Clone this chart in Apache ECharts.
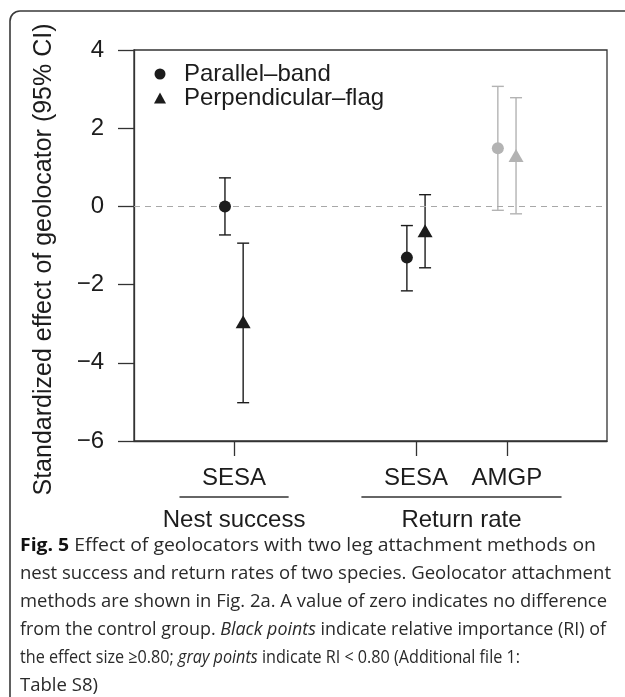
<!DOCTYPE html>
<html><head><meta charset="utf-8">
<script src="https://cdn.jsdelivr.net/npm/echarts@6/dist/echarts.min.js"></script>
<style>html,body{margin:0;padding:0;background:#fff}#c{width:625px;height:697px}</style>
</head><body><div id="c"></div>
<script>
// ---- data ----
const categories = ["SESA", "SESA", "AMGP"];
const categoryPos = [1, 3, 4];
const groupNames = ["Nest success", "Return rate"];
const groupMembers = [[0], [1, 2]];
const seriesNames = ["Parallel\u2013band", "Perpendicular\u2013flag"];
const parallelEst = [0.00, -1.31, 1.49];
const parallelLow = [-0.73, -2.16, -0.10];
const parallelHigh = [0.73, -0.49, 3.07];
const perpEst = [-2.95, -0.62, 1.30];
const perpLow = [-5.02, -1.57, -0.19];
const perpHigh = [-0.94, 0.30, 2.78];
const highImportance = [true, true, false];
const yTitle = "Standardized effect of geolocator (95% CI)";
// caption lines: segments [style, text]
const captionLines = [
  [["b", "Fig. 5"], ["n", " Effect of geolocators with two leg attachment methods on"]],
  [["n", "nest success and return rates of two species. Geolocator attachment"]],
  [["n", "methods are shown in Fig. 2a. A value of zero indicates no difference"]],
  [["n", "from the control group. "], ["i", "Black points"], ["n", " indicate relative importance (RI) of"]],
  [["n", "the effect size \u22650.80; "], ["i", "gray points"], ["n", " indicate RI < 0.80 (Additional file 1:"]],
  [["n", "Table S8)"]]
];
const captionLineWidths = [576, 591, 587, 586, 500, 78];

// ---- style ----
const BLACK = '#1c1c1c', GRAY = '#b3b3b3', AXIS = '#333333';
const FONT = '"Liberation Sans", Arial, Helvetica, sans-serif';
const CAP_FONT = '"Open Sans", "Liberation Sans", sans-serif';
const CAP_SIZE = 18;
const OFFSET = 0.1;

function pointData(est, sign) {
  return est.map((v, i) => ({
    value: [categoryPos[i] + sign * OFFSET, v],
    itemStyle: { color: highImportance[i] ? BLACK : GRAY }
  }));
}
function ciData(low, high, sign) {
  return low.map((l, i) => [categoryPos[i] + sign * OFFSET, l, high[i], highImportance[i] ? 1 : 0]);
}
function renderCI(params, api) {
  const x = api.value(0);
  const p1 = api.coord([x, api.value(1)]);
  const p2 = api.coord([x, api.value(2)]);
  const col = api.value(3) ? BLACK : GRAY;
  const hw = 6;
  const st = { stroke: col, lineWidth: 1.4 };
  return {
    type: 'group',
    children: [
      { type: 'line', shape: { x1: p1[0], y1: p1[1], x2: p2[0], y2: p2[1] }, style: st },
      { type: 'line', shape: { x1: p1[0] - hw, y1: p1[1], x2: p1[0] + hw, y2: p1[1] }, style: st },
      { type: 'line', shape: { x1: p2[0] - hw, y1: p2[1], x2: p2[0] + hw, y2: p2[1] }, style: st }
    ]
  };
}

const chart = echarts.init(document.getElementById('c'), null, { renderer: 'canvas' });
const option = {
  animation: false,
  backgroundColor: '#fff',
  grid: { left: 134, right: 18, top: 50, bottom: 256, show: true, borderColor: AXIS, borderWidth: 1.3, backgroundColor: 'transparent' },
  legend: {
    orient: 'vertical', left: 149, top: 57,
    itemWidth: 12, itemHeight: 11, itemGap: 0,
    textStyle: { fontSize: 24, color: BLACK, fontFamily: FONT, lineHeight: 24, padding: [0, 0, 0, 13] },
    data: [{ name: seriesNames[0], icon: 'circle' }, { name: seriesNames[1], icon: 'triangle' }],
    selectedMode: false
  },
  xAxis: {
    type: 'value', min: -0.1, max: 5.1,
    splitLine: { show: false },
    axisLine: { show: true, onZero: false, lineStyle: { color: AXIS, width: 1.3 } },
    axisTick: { show: true, customValues: categoryPos, length: 15, lineStyle: { color: AXIS, width: 1.3 } },
    axisLabel: {
      customValues: categoryPos, margin: 25, fontSize: 24, color: BLACK, fontFamily: FONT,
      formatter: v => categories[categoryPos.indexOf(v)] || ''
    }
  },
  yAxis: {
    type: 'value', min: -6, max: 4, interval: 2,
    splitLine: { show: false },
    axisLine: { show: true, onZero: false, lineStyle: { color: AXIS, width: 1.3 } },
    axisTick: { show: true, length: 16, lineStyle: { color: AXIS, width: 1.3 } },
    axisLabel: {
      margin: 30, fontSize: 24, color: BLACK, fontFamily: FONT,
      formatter: v => String(v).replace('-', '\u2212')
    },
    name: yTitle, nameLocation: 'middle', nameGap: 77,
    nameTextStyle: { fontSize: 25, color: BLACK, fontFamily: FONT, padding: [0, 28, 0, 0] }
  },
  series: [
    {
      name: 'zero', type: 'line', data: [], silent: true,
      markLine: {
        silent: true, symbol: ['none', 'none'], label: { show: false },
        lineStyle: { color: '#a8a8a8', type: [6, 5], width: 1.2 },
        data: [{ yAxis: 0 }]
      }
    },
    { name: 'ci-par', type: 'custom', renderItem: renderCI, data: ciData(parallelLow, parallelHigh, -1), z: 3, silent: true },
    { name: 'ci-perp', type: 'custom', renderItem: renderCI, data: ciData(perpLow, perpHigh, 1), z: 3, silent: true },
    { name: seriesNames[0], type: 'scatter', symbol: 'circle', symbolSize: 12, itemStyle: { color: BLACK, opacity: 1 }, data: pointData(parallelEst, -1), z: 5 },
    { name: seriesNames[1], type: 'scatter', symbol: 'triangle', symbolSize: [15, 13], itemStyle: { color: BLACK, opacity: 1 }, data: pointData(perpEst, 1), z: 5 }
  ]
};
chart.setOption(option);

// ---- annotations positioned through the axes ----
const yBottom = chart.convertToPixel({ yAxisIndex: 0 }, -6);
const graphics = [];
graphics.push({
  type: 'rect', id: 'frame', silent: true,
  shape: { x: 10, y: 11, width: 900, height: 900, r: 10 },
  style: { fill: 'none', stroke: '#3a3a3a', lineWidth: 1.6 }
});
groupNames.forEach((g, gi) => {
  const mem = groupMembers[gi];
  const lo = Math.min(...mem.map(i => categoryPos[i])) - 0.6;
  const hi = Math.max(...mem.map(i => categoryPos[i])) + 0.6;
  const x1 = chart.convertToPixel({ xAxisIndex: 0 }, lo);
  const x2 = chart.convertToPixel({ xAxisIndex: 0 }, hi);
  graphics.push({
    type: 'line', id: 'ul' + gi, silent: true,
    shape: { x1: x1, y1: yBottom + 56, x2: x2, y2: yBottom + 56 },
    style: { stroke: AXIS, lineWidth: 1.6 }
  });
  graphics.push({
    type: 'text', id: 'gl' + gi, silent: true,
    x: (x1 + x2) / 2, y: yBottom + 79,
    style: { text: g, fontSize: 24, fontFamily: FONT, fill: BLACK, align: 'center', verticalAlign: 'middle' }
  });
});
// caption: each line fitted to the width it has in the original figure
const ctx = document.createElement('canvas').getContext('2d');
const fontFor = s => (s === 'b' ? 'bold ' : s === 'i' ? 'italic ' : '') + CAP_SIZE + 'px ' + CAP_FONT;
captionLines.forEach((segs, li) => {
  let w = 0;
  segs.forEach(([s, t]) => { ctx.font = fontFor(s); w += ctx.measureText(t).width; });
  const sx = captionLineWidths[li] / w;
  const text = segs.map(([s, t]) => s === 'n' ? t : '{' + s + '|' + t + '}').join('');
  graphics.push({
    type: 'text', id: 'cap' + li, silent: true,
    x: 20, y: 546 + li * 28, scaleX: sx, scaleY: 1,
    style: {
      text: text, fontSize: CAP_SIZE, fontFamily: CAP_FONT, fill: '#2a2a2a', verticalAlign: 'middle',
      rich: {
        b: { fontWeight: 'bold', fontSize: CAP_SIZE, fontFamily: CAP_FONT, fill: '#111' },
        i: { fontStyle: 'italic', fontSize: CAP_SIZE, fontFamily: CAP_FONT, fill: '#2a2a2a' }
      }
    }
  });
});
chart.setOption({ graphic: graphics });
</script>
</body></html>
